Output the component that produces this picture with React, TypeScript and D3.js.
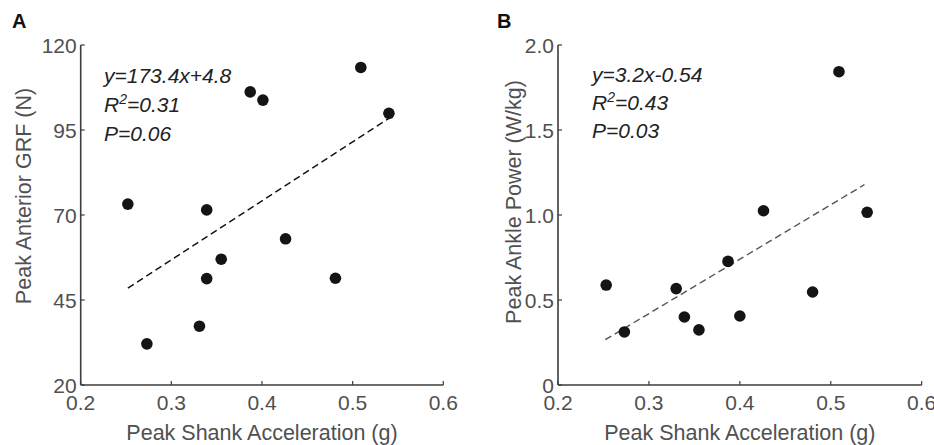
import React from 'react';
import * as d3 from 'd3';

// panel A: peak shank acceleration vs peak anterior GRF
const accelA = [0.252, 0.273, 0.331, 0.339, 0.339, 0.355, 0.387, 0.401, 0.426, 0.481, 0.509, 0.540];
const grfA = [73.2, 32.1, 37.3, 71.5, 51.3, 57.0, 106.2, 103.8, 63.0, 51.4, 113.4, 99.9];
const fitA = {slope: 173.4, intercept: 4.8, x0: 0.252, x1: 0.540};
const statsA = ['y=173.4x+4.8', '0.31', 'P=0.06'];

// panel B: peak shank acceleration vs peak ankle power
const accelB = [0.253, 0.273, 0.330, 0.339, 0.355, 0.387, 0.400, 0.426, 0.480, 0.509, 0.540];
const powerB = [0.588, 0.312, 0.567, 0.400, 0.324, 0.727, 0.406, 1.025, 0.547, 1.843, 1.016];
const fitB = {slope: 3.2, intercept: -0.54, x0: 0.252, x1: 0.537};
const statsB = ['y=3.2x-0.54', '0.43', 'P=0.03'];

const xTicks = [0.2, 0.3, 0.4, 0.5, 0.6];
const yTicksA = [20, 45, 70, 95, 120];
const yTicksB = [0, 0.5, 1.0, 1.5, 2.0];

const font = 'Liberation Sans, Arial, sans-serif';
const grey = '#505050';

function Panel(props) {
    const {letter, letterX, left, right, xs, ys, yDomain, yTicks, yFmt, fit, stats, yLabel, fitColor, textX, textY, labelX, labelY} = props;
    const top = 45, bottom = 385;
    const x = d3.scaleLinear().domain([0.2, 0.6]).range([left, right]);
    const y = d3.scaleLinear().domain(yDomain).range([bottom, top]);
    const line = d3.line().x(d => x(d)).y(d => y(fit.slope * d + fit.intercept));
    const pts = d3.zip(xs, ys);
    return (
        <g fontFamily={font}>
            <text x={letterX} y={28} fontSize={20} fontWeight="bold" fill="#111">{letter}</text>
            {/* axes */}
            <line x1={left} x2={left} y1={top} y2={bottom} stroke="#3c3c3c" strokeWidth={1.6}/>
            <line x1={left} x2={right} y1={bottom} y2={bottom} stroke="#3c3c3c" strokeWidth={1.6}/>
            {xTicks.map(t =>
                <g key={'x' + t}>
                    <line x1={x(t)} x2={x(t)} y1={bottom} y2={bottom - 4} stroke="#3c3c3c" strokeWidth={1.2}/>
                    <text x={x(t)} y={410} textAnchor="middle" fontSize={21} fill={grey}>{d3.format('.1f')(t)}</text>
                </g>)}
            {yTicks.map(t =>
                <g key={'y' + t}>
                    <line x1={left} x2={left + 4} y1={y(t)} y2={y(t)} stroke="#3c3c3c" strokeWidth={1.2}/>
                    <text x={left - 4} y={y(t)} dy="0.36em" textAnchor="end" fontSize={21} fill={grey}>{yFmt(t)}</text>
                </g>)}
            <text x={(left + right) / 2} y={440} textAnchor="middle" fontSize={21.5} fill={grey}>Peak Shank Acceleration (g)</text>
            <text transform={`translate(${labelX},${labelY}) rotate(-90)`} textAnchor="middle" fontSize={21.5} fill={grey}>{yLabel}</text>
            {/* regression */}
            <path d={line([fit.x0, fit.x1])} fill="none" stroke={fitColor} strokeWidth={1.4} strokeDasharray="7,4"/>
            {pts.map((d, i) =>
                <circle key={i} cx={x(d[0])} cy={y(d[1])} r={5.8} fill="#141414"/>)}
            <g fontSize={21} fontStyle="italic" fill="#222">
                <text x={textX} y={textY[0]}>{stats[0]}</text>
                <text x={textX} y={textY[1]}>R<tspan fontSize={14} dy={-8}>2</tspan><tspan dy={8}>={stats[1]}</tspan></text>
                <text x={textX} y={textY[2]}>{stats[2]}</text>
            </g>
        </g>
    );
}

export default function App() {
    return (
        <svg width={934} height={445} style={{position: 'absolute', left: 0, top: 0, background: '#fff'}}>
            <Panel letter="A" letterX={12} left={80.7} right={443.3} xs={accelA} ys={grfA} yDomain={[20, 120]}
                   yTicks={yTicksA} yFmt={d3.format('d')} fit={fitA} stats={statsA}
                   yLabel="Peak Anterior GRF (N)" fitColor="#111" textX={104} textY={[83, 112, 141]}
                   labelX={31} labelY={196}/>
            <Panel letter="B" letterX={497} left={558} right={921.7} xs={accelB} ys={powerB} yDomain={[0, 2]}
                   yTicks={yTicksB} yFmt={t => t === 0 ? '0' : d3.format('.1f')(t)} fit={fitB} stats={statsB}
                   yLabel="Peak Ankle Power (W/kg)" fitColor="#555" textX={592} textY={[82, 110, 138]}
                   labelX={521} labelY={202}/>
        </svg>
    );
}
